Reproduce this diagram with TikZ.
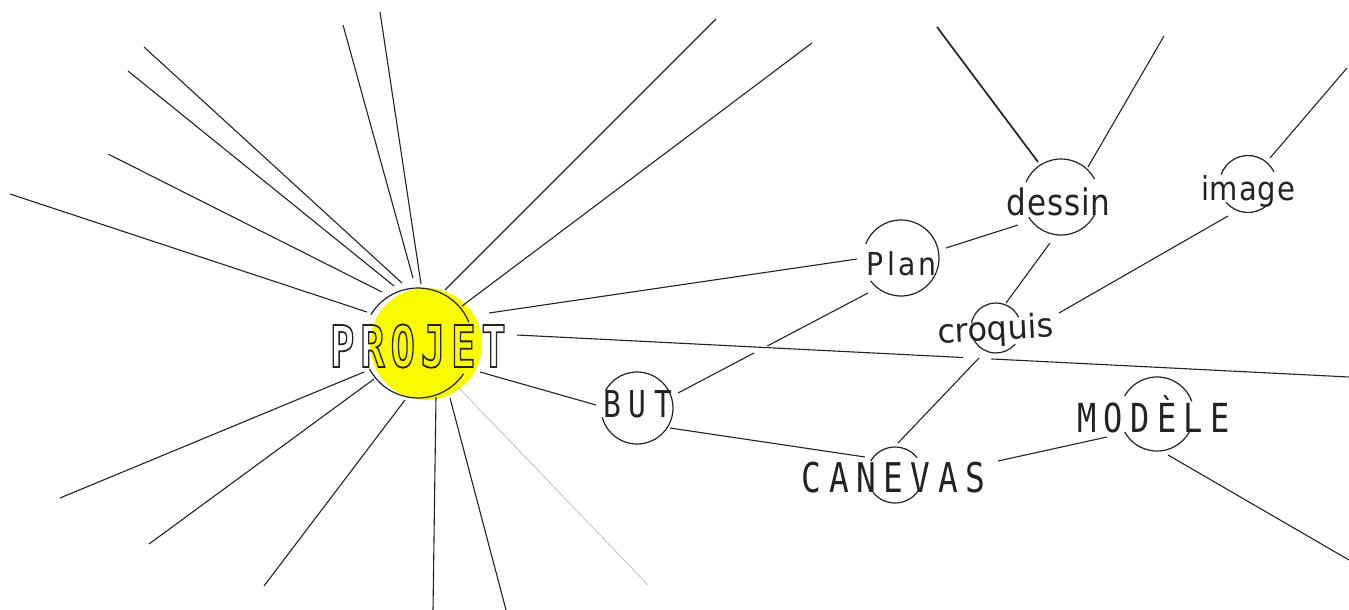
\documentclass[tikz,border=0pt]{standalone}
\usepackage{fontspec}
\usetikzlibrary{calc}
\newfontfamily\monofont{DejaVu Sans Mono}
\newfontfamily\labelfont{DejaVu Sans}
\definecolor{ink}{RGB}{35,35,35}
\definecolor{sun}{RGB}{250,250,0}
% arc of a ring: centre, radius, from / to angle (counter-clockwise, page angles)
\newcommand\ringarc[4]{\draw[ring] (#1) ++({-(#3)}:#2) arc[start angle={-(#3)}, end angle={-(#4)}, radius=#2];}
\begin{document}
\begin{tikzpicture}[x=1pt,y=-1pt,
  wire/.style={draw=ink, line width=1.1pt},
  faint/.style={draw=black!30, line width=0.6pt},
  ring/.style={draw=ink, line width=1.2pt},
  caps/.style={inner sep=0pt, anchor=base, text=ink},
  lower/.style={inner sep=0pt, anchor=base, text=ink},
]
\useasboundingbox (0,0) rectangle (1349,610);

% the sun behind PROJET
\fill[sun] (426,344) circle[radius=56];

% ring centres
\coordinate (c-projet) at (418,343);
\coordinate (c-but) at (637,408);
\coordinate (c-plan) at (901,258);
\coordinate (c-dessin) at (1061,197);
\coordinate (c-image) at (1248,184);
\coordinate (c-croquis) at (996,328);
\coordinate (c-canevas) at (895,475);
\coordinate (c-modele) at (1157,414);

% rings, broken where the words pass through
\ringarc{c-projet}{55}{22}{149}
\ringarc{c-projet}{55}{208}{326}
\ringarc{c-but}{36}{195}{510}
\ringarc{c-plan}{38}{217}{518}
\ringarc{c-dessin}{38}{28}{157}
\ringarc{c-dessin}{38}{212}{333}
\ringarc{c-image}{28.5}{25}{161}
\ringarc{c-image}{28.5}{220}{310}
\ringarc{c-croquis}{25}{25}{169}
\ringarc{c-croquis}{25}{208}{320}
\ringarc{c-canevas}{28}{38}{150}
\ringarc{c-canevas}{28}{218}{329}
\ringarc{c-modele}{37}{20}{151}
\ringarc{c-modele}{37}{209}{332}

% rays around PROJET
\foreach \n/\sx/\sy/\ex/\ey in {
  r1/367/312/10/194, r2/382/292/108/154, r3/394/286/128/71,
  r4/402/283/144/47, r5/413/278/343/25, r6/421/284/380/12,
  r7/445/290/716/19, r8/462/306/812/43, r9/364/372/60/498,
  r10/374/379/149/544, r11/405/400/264/586, r12/436/397/433/610,
  r13/450/398/506/610}
{
  \coordinate (\n-a) at (\sx,\sy);
  \coordinate (\n-b) at (\ex,\ey);
  \draw[wire] (\n-a) -- (\n-b);
}
\coordinate (r14-a) at (458,387);
\coordinate (r14-b) at (648,585);
\draw[faint] (r14-a) -- (r14-b);

% words
\node[caps, font=\monofont\bfseries\fontsize{57.6}{60}\selectfont] (projet) at (418,367)
  {\scalebox{0.7}[1]{\special{pdf:literal direct 1 Tr 1.8 w}P\kern8.6pt R\kern8.6pt O\kern8.6pt J\kern8.6pt E\kern8.6pt T\special{pdf:literal direct 0 Tr}}};
\node[caps, font=\monofont\fontsize{37}{40}\selectfont] (but) at (637.5,417)
  {\scalebox{0.8}[1]{B\kern9.6pt U\kern9.6pt T}};
\node[caps, font=\monofont\fontsize{41}{44}\selectfont] (canevas) at (893.5,492)
  {\scalebox{0.8}[1]{C\kern9.4pt A\kern9.4pt N\kern9.4pt E\kern9.4pt V\kern9.4pt A\kern9.4pt S}};
\node[caps, font=\monofont\fontsize{40}{43}\selectfont] (modele) at (1153.5,432)
  {\scalebox{0.8}[1]{M\kern9.2pt O\kern9.2pt D\kern9.2pt È\kern9.2pt L\kern9.2pt E}};
\node[lower, font=\labelfont\fontsize{31.5}{34}\selectfont] (plan) at (901.5,275)
  {\scalebox{0.9}[1]{P\kern4pt l\kern4pt a\kern3pt n}};
\node[lower, font=\labelfont\fontsize{36.5}{40}\selectfont] (dessin) at (1058.5,215)
  {\scalebox{0.85}[1]{d\kern1pt e\kern1pt s\kern1pt s\kern1pt i\kern1pt n}};
\node[lower, font=\labelfont\fontsize{33}{36}\selectfont] (image) at (1248,200)
  {\scalebox{0.88}[1]{i\kern1pt m\kern1pt a\kern1pt g\kern1pt e}};
\node[lower, font=\labelfont\fontsize{33}{36}\selectfont, rotate=3] (croquis) at (996,340) {\scalebox{0.97}[1]{croquis}};

% links between the words
\coordinate (pj-plan) at (489,313);   \coordinate (plan-w) at (857,259);
\draw[wire] (pj-plan) -- (plan-w);
\coordinate (pj-long) at (517,335);   \coordinate (long-e) at (1349,377);
\draw[wire] (pj-long) -- ($(pj-long)!0.536!(long-e)$);
\draw[wire] ($(pj-long)!0.570!(long-e)$) -- (long-e);
\coordinate (pj-but) at (480,372);    \coordinate (but-w) at (596,405);
\draw[wire] (pj-but) -- (but-w);
\coordinate (but-ne) at (678,393);    \coordinate (plan-sw) at (868,293);
\draw[wire] (but-ne) -- ($(but-ne)!0.40!(plan-sw)$);
\draw[wire] ($(but-ne)!0.47!(plan-sw)$) -- (plan-sw);
\coordinate (but-se) at (670,428);    \coordinate (canevas-nw) at (865,457);
\draw[wire] (but-se) -- (canevas-nw);
\coordinate (plan-ne) at (946,248);   \coordinate (dessin-sw) at (1018,225);
\draw[wire] (plan-ne) -- (dessin-sw);
\coordinate (dessin-s) at (1050,243); \coordinate (croquis-n) at (1006,303);
\draw[wire] (dessin-s) -- (croquis-n);
\coordinate (image-sw) at (1228,216); \coordinate (croquis-e) at (1059,313);
\draw[wire] (image-sw) -- (croquis-e);
\coordinate (croquis-s) at (979,358); \coordinate (canevas-n) at (898,443);
\draw[wire] (croquis-s) -- (canevas-n);
\coordinate (canevas-e) at (998,461); \coordinate (modele-w) at (1107,437);
\draw[wire] (canevas-e) -- (modele-w);
\coordinate (modele-se) at (1168,455); \coordinate (modele-out) at (1349,560);
\draw[wire] (modele-se) -- (modele-out);
\coordinate (dessin-nw) at (1038,162); \coordinate (dessin-out1) at (937,27);
\draw[wire, line width=1.7pt] (dessin-nw) -- (dessin-out1);
\coordinate (dessin-ne) at (1088,167); \coordinate (dessin-out2) at (1164,36);
\draw[wire] (dessin-ne) -- (dessin-out2);
\coordinate (image-ne) at (1270,158); \coordinate (image-out) at (1347,68);
\draw[wire] (image-ne) -- (image-out);
\end{tikzpicture}
\end{document}
